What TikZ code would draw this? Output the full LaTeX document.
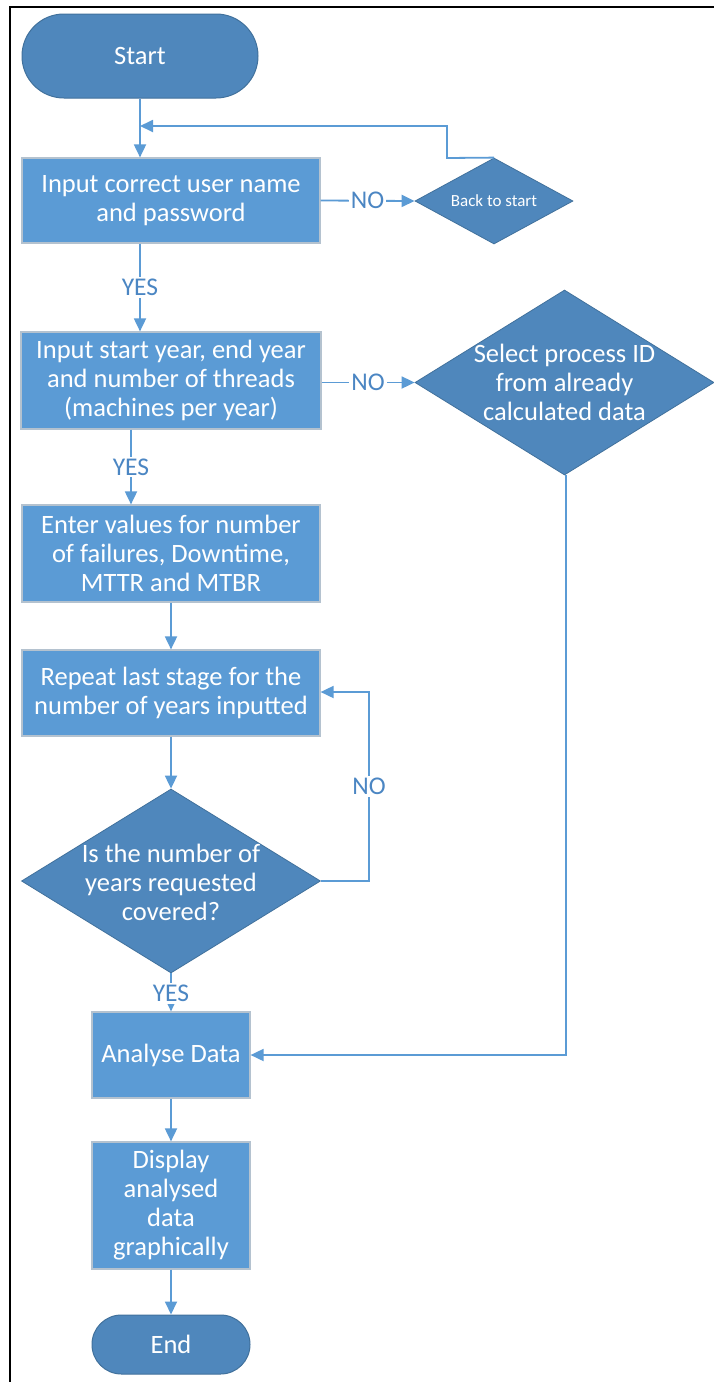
\documentclass[tikz,border=0pt]{standalone}
\usepackage{fontspec}
\setmainfont{Carlito}
\usetikzlibrary{shapes.geometric,arrows.meta}
\definecolor{boxfill}{HTML}{5B9BD5}
\definecolor{boxedge}{HTML}{B4C2CF}
\definecolor{darkfill}{HTML}{4F87BC}
\definecolor{darkedge}{HTML}{41719C}
\definecolor{linecol}{HTML}{5B9BD5}
\definecolor{labcol}{HTML}{4B86C3}
\tikzset{
  procbox/.style={draw=boxedge, line width=1.2pt, fill=boxfill, text=white, align=center,
    font=\fontsize{26.5}{29}\selectfont, inner sep=0pt, minimum width=298pt},
  term/.style={draw=darkedge, line width=1pt, fill=darkfill, text=white, align=center,
    font=\fontsize{26.5}{29}\selectfont, inner sep=0pt},
  decision/.style={diamond, draw=darkedge, line width=0.8pt, fill=darkfill, inner sep=0pt},
  dtext/.style={text=white, align=center, font=\fontsize{26.5}{29}\selectfont},
  arr/.style={draw=linecol, line width=1.8pt, -{Triangle[length=13pt,width=12pt]}},
  conn/.style={draw=linecol, line width=1.8pt},
  lab/.style={text=labcol, font=\fontsize{25.5}{27}\selectfont, fill=white, inner sep=2pt},
  frame/.style={draw=black, line width=2.2pt}
}
\begin{document}
\begin{tikzpicture}[x=1pt,y=-1pt]
\useasboundingbox (0,0) rectangle (714,1382);
\fill[white] (0,0) rectangle (714,1382);
\draw[frame] (10,1382) -- (10,7) -- (714,7);

% nodes
\node[term, minimum width=236pt, minimum height=84pt, rounded corners=41.9pt] (start) at (140,56) {Start};
\node[procbox, minimum height=85pt] (b1) at (171,200.5) {Input correct user name\\and password};
\node[decision, minimum width=158pt, minimum height=86pt,
  label={[text=white, font=\fontsize{17}{20}\selectfont]center:Back to start}] (d1) at (494,201) {};
\node[procbox, minimum width=300pt, minimum height=97pt] (b2) at (171,380.5) {Input start year, end year\\and number of threads\\(machines per year)};
\node[decision, minimum width=299pt, minimum height=185pt,
  label={[dtext]center:Select process ID\\from already\\calculated data}] (d2) at (564.5,382.5) {};
\node[procbox, minimum height=97pt] (b3) at (171,553.5) {Enter values for number\\of failures, Downtime,\\MTTR and MTBR};
\node[procbox, minimum height=86pt] (b4) at (171,693) {Repeat last stage for the\\number of years inputted};
\node[decision, minimum width=299pt, minimum height=184pt,
  label={[dtext, yshift=-1pt]center:Is the number of\\years requested\\covered?}] (d3) at (171,881) {};
\node[procbox, minimum width=158pt, minimum height=86pt] (b5) at (171,1055) {Analyse Data};
\node[procbox, minimum width=158pt, minimum height=127pt] (b6) at (171,1205.5) {\raisebox{-3pt}{\parbox{150pt}{\centering Display\\analysed\\data\\graphically}}};
\node[term, minimum width=158pt, minimum height=59pt, rounded corners=29.4pt] (end) at (171,1344.5) {End};

% helper coordinates
\coordinate (fbtop) at (447,126);
\coordinate (fbend) at (140,126);
\coordinate (fbcorner) at (447,158);
\coordinate (loopx) at (369,881);
\coordinate (looptop) at (369,692);

% connectors
\draw[arr] (start.south) -- (start.south |- b1.north);
\draw[arr] (d1.north) -- (fbcorner) -- (fbtop) -- (fbend);
\draw[arr] (b1.east) -- node[lab]{NO} (d1.west);
\draw[arr] ([xshift=-31pt]b1.south) -- node[lab]{YES} ([xshift=-31pt]b2.north);
\draw[arr] (b2.east |- d2.west) -- node[lab]{NO} (d2.west);
\draw[arr] ([xshift=-40pt]b2.south) -- node[lab]{YES} ([xshift=-40pt]b3.north);
\draw[arr] (b3.south) -- (b4.north);
\draw[arr] (b4.south) -- (d3.north);
\draw[arr] (d3.east) -- (loopx) -- node[lab, pos=0.5]{NO} (looptop) -- (looptop -| b4.east);
\draw[arr] (d3.south) -- node[lab, pos=0.52]{YES} (b5.north);
\draw[arr] ([xshift=1.5pt]d2.south) |- (b5.east);
\draw[arr] (b5.south) -- (b6.north);
\draw[arr] (b6.south) -- (end.north);
\end{tikzpicture}
\end{document}
